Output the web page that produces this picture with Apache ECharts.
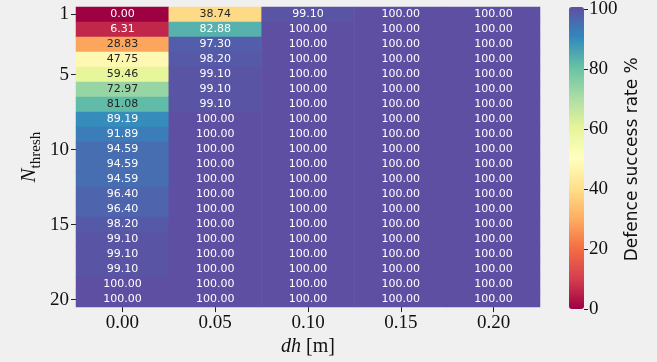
<!DOCTYPE html>
<html lang="en">
  <head>
    <meta charset="UTF-8" />
    <title>Defence success rate</title>
    <script src="https://cdn.jsdelivr.net/npm/echarts@6/dist/echarts.min.js"></script>
    <style>
      body { margin: 0; background: #f0f0f0; }
    </style>
  </head>
  <body>
    <div id="main" style="width: 657px; height: 362px"></div>
    <script>
      // dh values (columns) and N_thresh values (rows)
      var dhLabels = ["0.00", "0.05", "0.10", "0.15", "0.20"];
      var nThresh = [1, 2, 3, 4, 5, 6, 7, 8, 9, 10, 11, 12, 13, 14, 15, 16, 17, 18, 19, 20];
      var yTickShown = [1, 5, 10, 15, 20];

      // success rate (%) per column, top row = N_thresh 1
      var rateDh000 = [0.0, 6.31, 28.83, 47.75, 59.46, 72.97, 81.08, 89.19, 91.89, 94.59,
                       94.59, 94.59, 96.4, 96.4, 98.2, 99.1, 99.1, 99.1, 100, 100];
      var rateDh005 = [38.74, 82.88, 97.3, 98.2, 99.1, 99.1, 99.1, 100, 100, 100,
                       100, 100, 100, 100, 100, 100, 100, 100, 100, 100];
      var rateDh010 = [99.1, 100, 100, 100, 100, 100, 100, 100, 100, 100,
                       100, 100, 100, 100, 100, 100, 100, 100, 100, 100];
      var rateDh015 = [100, 100, 100, 100, 100, 100, 100, 100, 100, 100,
                       100, 100, 100, 100, 100, 100, 100, 100, 100, 100];
      var rateDh020 = [100, 100, 100, 100, 100, 100, 100, 100, 100, 100,
                       100, 100, 100, 100, 100, 100, 100, 100, 100, 100];
      var columns = [rateDh000, rateDh005, rateDh010, rateDh015, rateDh020];

      // Spectral colormap
      var spectral = ["#9e0142", "#d53e4f", "#f46d43", "#fdae61", "#fee08b", "#ffffbf",
                      "#e6f598", "#abdda4", "#66c2a5", "#3288bd", "#5e4fa2"];

      function hexRgb(h) {
        return [parseInt(h.substr(1, 2), 16), parseInt(h.substr(3, 2), 16), parseInt(h.substr(5, 2), 16)];
      }
      function cmap(v) {
        var t = (v / 100) * (spectral.length - 1);
        var i = Math.min(Math.floor(t), spectral.length - 2);
        var f = t - i;
        var a = hexRgb(spectral[i]), b = hexRgb(spectral[i + 1]);
        return [0, 1, 2].map(function (k) { return a[k] + (b[k] - a[k]) * f; });
      }
      // pick dark or white text like seaborn does
      function textColor(v) {
        var c = cmap(v).map(function (x) {
          x = x / 255;
          return x <= 0.03928 ? x / 12.92 : Math.pow((x + 0.055) / 1.055, 2.4);
        });
        var lum = 0.2126 * c[0] + 0.7152 * c[1] + 0.0722 * c[2];
        return lum > 0.408 ? "#262626" : "#ffffff";
      }

      var data = [];
      columns.forEach(function (col, ci) {
        col.forEach(function (v, ri) {
          data.push({ value: [ci, ri, v], label: { color: textColor(v) } });
        });
      });

      var serif = "Liberation Serif";
      var myChart = echarts.init(document.getElementById("main"));
      var option = {
        backgroundColor: "#f0f0f0",
        animation: false,
        grid: [
          { left: 76, top: 7, width: 464, height: 302 },
          { left: 569, top: 7, width: 15, height: 302 }
        ],
        xAxis: [
          {
            type: "category",
            data: dhLabels,
            gridIndex: 0,
            axisLine: { show: false },
            axisTick: { show: true, alignWithLabel: true, length: 5, lineStyle: { color: "#222" } },
            axisLabel: { fontFamily: serif, fontSize: 19, color: "#111", margin: 6 },
            splitLine: { show: false },
            name: "{i|dh} [m]",
            nameLocation: "middle",
            nameGap: 27,
            nameTextStyle: {
              fontFamily: serif,
              fontSize: 20,
              color: "#111",
              rich: { i: { fontFamily: serif, fontStyle: "italic", fontSize: 20, color: "#111" } }
            }
          },
          { type: "category", gridIndex: 1, show: false, data: [""] }
        ],
        yAxis: [
          {
            type: "category",
            data: nThresh,
            inverse: true,
            gridIndex: 0,
            axisLine: { show: false },
            axisTick: {
              show: true,
              alignWithLabel: true,
              length: 5,
              lineStyle: { color: "#222" },
              interval: function (i) { return yTickShown.indexOf(nThresh[i]) >= 0; }
            },
            axisLabel: {
              fontFamily: serif,
              fontSize: 19,
              color: "#111",
              margin: 7,
              interval: function (i) { return yTickShown.indexOf(nThresh[i]) >= 0; }
            },
            splitLine: { show: false },
            name: "{n|N}{s|thresh}",
            nameLocation: "middle",
            nameRotate: 90,
            nameGap: 36,
            nameMoveOverlap: false,
            nameTextStyle: {
              rich: {
                n: { fontFamily: serif, fontStyle: "italic", fontSize: 21, color: "#111" },
                s: { fontFamily: serif, fontSize: 15, color: "#111", verticalAlign: "bottom", padding: [0, 0, -4, 0] }
              }
            }
          },
          {
            type: "value",
            gridIndex: 1,
            position: "right",
            min: 0,
            max: 100,
            interval: 20,
            axisLine: { show: false },
            axisTick: { show: true, length: 4, lineStyle: { color: "#222" } },
            axisLabel: { fontFamily: serif, fontSize: 19, color: "#111", margin: 5 },
            splitLine: { show: false },
            name: "Defence success rate %",
            nameLocation: "middle",
            nameRotate: 90,
            nameGap: 40,
            nameTextStyle: { fontFamily: "DejaVu Sans", fontSize: 17, color: "#111" }
          }
        ],
        visualMap: {
          type: "continuous",
          min: 0,
          max: 100,
          dimension: 2,
          seriesIndex: 0,
          calculable: false,
          left: 569,
          top: 7,
          padding: 0,
          itemWidth: 15,
          itemHeight: 302,
          inRange: { color: spectral }
        },
        series: [
          {
            type: "heatmap",
            xAxisIndex: 0,
            yAxisIndex: 0,
            data: data,
            label: {
              show: true,
              fontFamily: "DejaVu Sans",
              fontSize: 11,
              formatter: function (p) { return p.value[2].toFixed(2); }
            },
            itemStyle: { borderWidth: 0 },
            emphasis: { disabled: true }
          }
        ]
      };
      myChart.setOption(option);
    </script>
  </body>
</html>
